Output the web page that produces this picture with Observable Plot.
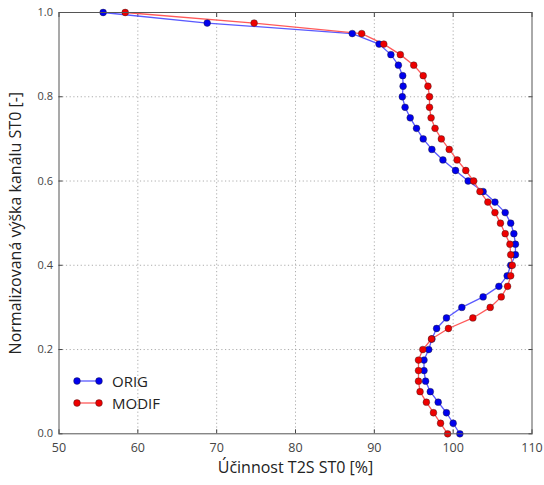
<!DOCTYPE html>
<html>
<head>
<meta charset="utf-8">
<script src="https://cdn.jsdelivr.net/npm/d3@7"></script>
<script src="https://cdn.jsdelivr.net/npm/@observablehq/plot@0.6"></script>
<style>
  body { margin: 0; background: #fff; }
  #wrap { position: relative; width: 544px; height: 485px; font-family: "Open Sans", sans-serif; }
  #legend { position: absolute; left: 72px; top: 370px; font-size: 15px; color: #222; line-height: 22px; }
  #legend div { display: flex; align-items: center; }
  #legend svg { margin-right: 6px; }
</style>
</head>
<body>
<div id="wrap"><div id="chart"></div><div id="legend"></div></div>
<script>
const heights = [0.000,0.025,0.050,0.075,0.100,0.125,0.150,0.175,0.200,0.225,
  0.250,0.275,0.300,0.325,0.350,0.375,0.400,0.425,0.450,0.475,
  0.500,0.525,0.550,0.575,0.600,0.625,0.650,0.675,0.700,0.725,
  0.750,0.775,0.800,0.825,0.850,0.875,0.900,0.925,0.950,0.975,1.000];
const orig = [100.85,100.0,99.15,98.1,97.1,96.5,96.3,96.3,96.9,97.3,
  97.9,99.15,101.1,103.8,105.8,106.85,107.3,107.9,107.9,107.7,
  107.3,106.6,105.3,103.8,101.9,100.3,98.7,97.3,96.2,95.35,
  94.55,93.9,93.55,93.65,93.6,93.05,92.1,90.6,87.2,68.8,55.6];
const modif = [99.3,98.4,97.5,96.6,95.8,95.6,95.6,95.6,96.15,97.25,
  99.4,102.5,104.7,106.1,106.9,107.3,107.5,107.3,107.2,106.6,
  106.0,105.3,104.4,103.4,102.6,101.6,100.5,99.5,98.5,97.7,
  97.2,97.0,97.0,96.8,96.2,95.0,93.3,91.2,88.4,74.75,58.4];
const seriesNames = ["ORIG", "MODIF"];
const seriesColors = ["#0000ee", "#ee0000"];
const lineColors = ["#5a5aff", "#ff5a5a"];
const xTicks = [50, 60, 70, 80, 90, 100, 110];
const yTicks = [0.0, 0.2, 0.4, 0.6, 0.8, 1.0];
const xLabel = "Účinnost T2S ST0 [%]";
const yLabel = "Normalizovaná výška kanálu ST0 [-]";

const rows = [];
[orig, modif].forEach((vals, si) => {
  vals.forEach((v, i) => rows.push({series: seriesNames[si], x: v, y: heights[i]}));
});

const chart = Plot.plot({
  width: 544, height: 485,
  marginLeft: 58.5, marginRight: 12.5, marginTop: 12, marginBottom: 51.7,
  style: {fontFamily: "'Open Sans', sans-serif", background: "#fff", color: "#444"},
  x: {domain: [50, 110]},
  y: {domain: [0, 1]},
  color: {domain: seriesNames, range: seriesColors},
  marks: [
    Plot.gridX(xTicks.slice(1, -1), {stroke: "#999", strokeOpacity: 0.8, strokeDasharray: "1.2,2.5", strokeWidth: 1}),
    Plot.gridY(yTicks.slice(1, -1), {stroke: "#999", strokeOpacity: 0.8, strokeDasharray: "1.2,2.5", strokeWidth: 1}),
    Plot.axisX(xTicks, {anchor: "bottom", tickSize: 0, tickPadding: 9, fontSize: 12.5, fill: "#444", label: null}),
    Plot.axisY(yTicks, {anchor: "left", tickSize: 0, tickPadding: 6, fontSize: 11, fill: "#444", tickFormat: d3.format(".1f"), label: null}),
    Plot.axisX(xTicks, {anchor: "bottom", tickSize: -4, text: null, label: null, stroke: "#444"}),
    Plot.axisX(xTicks, {anchor: "top", tickSize: -4, text: null, label: null, stroke: "#444"}),
    Plot.axisY(yTicks, {anchor: "left", tickSize: -4, text: null, label: null, stroke: "#444"}),
    Plot.axisY(yTicks, {anchor: "right", tickSize: -4, text: null, label: null, stroke: "#444"}),
    Plot.line(rows, {x: "x", y: "y", z: "series", stroke: d => lineColors[seriesNames.indexOf(d.series)], strokeWidth: 1.3, sort: null}),
    Plot.dot(rows, {x: "x", y: "y", fill: "series", stroke: "#222", strokeWidth: 0.4, r: 3.4}),
    Plot.frame({stroke: "#555", strokeWidth: 1}),
    Plot.text([xLabel], {text: d => d, frameAnchor: "bottom", textAnchor: "middle", dy: 34, fontSize: 16, fill: "#222", lineAnchor: "middle"}),
    Plot.text([yLabel], {text: d => d, frameAnchor: "left", textAnchor: "middle", dx: -43.5, rotate: -90, fontSize: 16, fill: "#222", lineAnchor: "middle"})
  ]
});
document.getElementById("chart").appendChild(chart);

const legend = document.getElementById("legend");
seriesNames.forEach((name, i) => {
  const row = document.createElement("div");
  row.innerHTML = `<svg width="34" height="12"><line x1="5" y1="6" x2="27" y2="6" stroke="${lineColors[i]}" stroke-width="1.3"/>` +
    `<circle cx="5" cy="6" r="3.4" fill="${seriesColors[i]}" stroke="#222" stroke-width="0.4"/>` +
    `<circle cx="27" cy="6" r="3.4" fill="${seriesColors[i]}" stroke="#222" stroke-width="0.4"/></svg><span>${name}</span>`;
  legend.appendChild(row);
});
</script>
</body>
</html>
